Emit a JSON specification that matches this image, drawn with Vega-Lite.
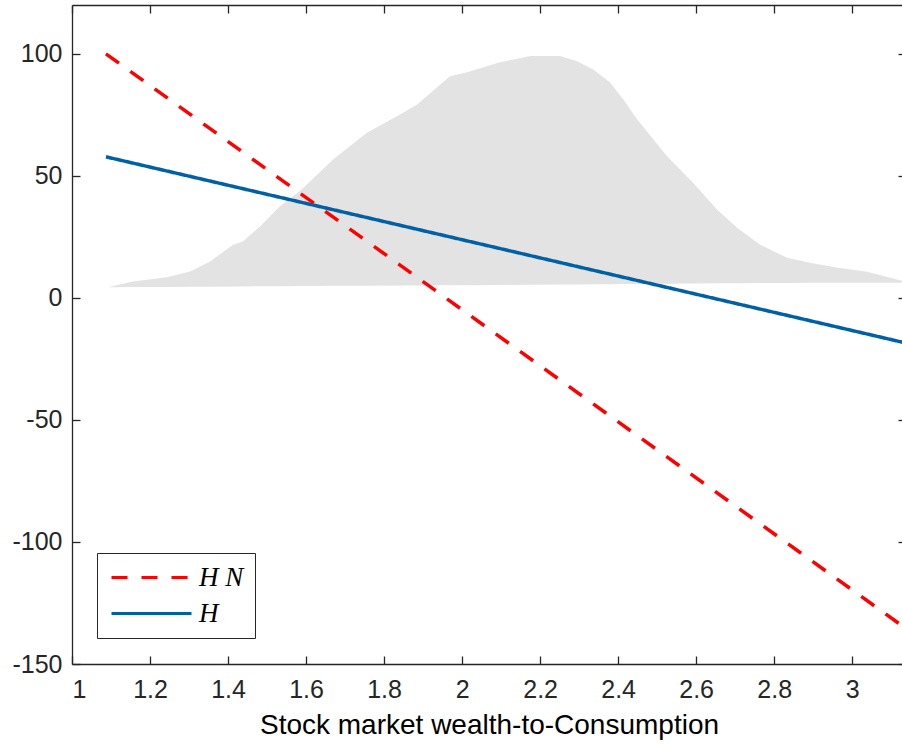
{
  "$schema": "https://vega.github.io/schema/vega-lite/v6.json",
  "width": 834,
  "height": 659,
  "autosize": "none",
  "padding": {"left": 72, "top": 5, "right": 0, "bottom": 81},
  "background": "white",
  "config": {
    "view": {"stroke": null},
    "axis": {
      "domainColor": "#262626",
      "domainWidth": 1.3,
      "tickColor": "#262626",
      "tickWidth": 1.3,
      "tickSize": -8,
      "grid": false,
      "labelFont": "Liberation Sans",
      "labelFontSize": 25,
      "labelColor": "#262626",
      "titleFont": "Liberation Sans",
      "titleFontSize": 28,
      "titleFontWeight": "normal",
      "titleColor": "#000000"
    }
  },
  "datasets": {
    "density": [
      {"x": 1.092, "top": 4.4, "base": 4.4},
      {"x": 1.156, "top": 6.7, "base": 4.5},
      {"x": 1.244, "top": 8.5, "base": 4.5},
      {"x": 1.303, "top": 10.8, "base": 4.6},
      {"x": 1.354, "top": 14.9, "base": 4.6},
      {"x": 1.413, "top": 21.8, "base": 4.7},
      {"x": 1.438, "top": 23.1, "base": 4.7},
      {"x": 1.482, "top": 29.3, "base": 4.8},
      {"x": 1.533, "top": 37.5, "base": 4.8},
      {"x": 1.585, "top": 43.9, "base": 4.9},
      {"x": 1.615, "top": 48.4, "base": 4.9},
      {"x": 1.669, "top": 56.7, "base": 5.0},
      {"x": 1.756, "top": 67.7, "base": 5.0},
      {"x": 1.841, "top": 75.1, "base": 5.1},
      {"x": 1.885, "top": 79.2, "base": 5.1},
      {"x": 1.93, "top": 85.5, "base": 5.2},
      {"x": 1.969, "top": 90.8, "base": 5.2},
      {"x": 2.013, "top": 92.4, "base": 5.2},
      {"x": 2.097, "top": 96.5, "base": 5.3},
      {"x": 2.174, "top": 99.1, "base": 5.4},
      {"x": 2.251, "top": 99.1, "base": 5.5},
      {"x": 2.295, "top": 97.0, "base": 5.5},
      {"x": 2.336, "top": 93.6, "base": 5.6},
      {"x": 2.379, "top": 88.3, "base": 5.6},
      {"x": 2.415, "top": 81.0, "base": 5.7},
      {"x": 2.449, "top": 73.1, "base": 5.7},
      {"x": 2.49, "top": 65.0, "base": 5.8},
      {"x": 2.526, "top": 57.9, "base": 5.8},
      {"x": 2.592, "top": 47.2, "base": 5.9},
      {"x": 2.654, "top": 36.1, "base": 6.0},
      {"x": 2.705, "top": 28.7, "base": 6.0},
      {"x": 2.764, "top": 21.8, "base": 6.1},
      {"x": 2.833, "top": 16.4, "base": 6.1},
      {"x": 2.892, "top": 14.4, "base": 6.2},
      {"x": 2.96, "top": 12.5, "base": 6.2},
      {"x": 3.038, "top": 10.7, "base": 6.2},
      {"x": 3.138, "top": 6.6, "base": 6.2}
    ],
    "lines": [
      {"x": 1.087, "y": 100.0, "series": "H N"},
      {"x": 3.138, "y": -135.5, "series": "H N"},
      {"x": 1.087, "y": 57.8, "series": "H"},
      {"x": 3.138, "y": -18.5, "series": "H"}
    ]
  },
  "resolve": {"axis": {"x": "independent", "y": "independent"}},
  "layer": [
    {
      "data": {"name": "density"},
      "mark": {"type": "area", "color": "#E3E3E3", "opacity": 1},
      "encoding": {
        "x": {
          "field": "x", "type": "quantitative",
          "scale": {"domain": [1, 3.138], "nice": false, "zero": false},
          "axis": {
            "orient": "bottom",
            "title": "Stock market wealth-to-Consumption",
            "values": [1, 1.2, 1.4, 1.6, 1.8, 2, 2.2, 2.4, 2.6, 2.8, 3],
            "format": "~g",
            "labelPadding": 21,
            "titlePadding": 9
          }
        },
        "y": {
          "field": "top", "type": "quantitative",
          "scale": {"domain": [-150, 120], "nice": false, "zero": false},
          "axis": {
            "orient": "left",
            "title": null,
            "values": [-150, -100, -50, 0, 50, 100],
            "labelExpr": "datum.value + ''",
            "labelPadding": 18
          }
        },
        "y2": {"field": "base"}
      }
    },
    {
      "data": {"name": "lines"},
      "mark": {"type": "line", "strokeWidth": 3.5, "strokeCap": "butt"},
      "encoding": {
        "x": {
          "field": "x", "type": "quantitative",
          "axis": {"orient": "top", "title": null, "labels": false, "values": [1, 1.2, 1.4, 1.6, 1.8, 2, 2.2, 2.4, 2.6, 2.8, 3]}
        },
        "y": {
          "field": "y", "type": "quantitative",
          "axis": {"orient": "right", "title": null, "labels": false, "values": [-150, -100, -50, 0, 50, 100]}
        },
        "color": {
          "field": "series", "type": "nominal",
          "scale": {"domain": ["H N", "H"], "range": ["#FF0000", "#0060A4"]},
          "legend": {
            "orient": "none",
            "legendX": 25,
            "legendY": 548,
            "title": null,
            "symbolType": "M-1,0H7",
            "symbolSize": 400,
            "symbolStrokeWidth": 3,
            "labelOffset": 64,
            "labelFont": "Liberation Serif",
            "labelFontStyle": "italic",
            "labelFontSize": 27,
            "labelColor": "#000000",
            "strokeColor": "#262626",
            "fillColor": "#FFFFFF",
            "padding": 11,
            "rowPadding": 8
          }
        },
        "strokeDash": {
          "field": "series", "type": "nominal",
          "scale": {"domain": ["H N", "H"], "range": [[16, 14], [1, 0]]},
          "legend": null
        }
      }
    }
  ]
}
